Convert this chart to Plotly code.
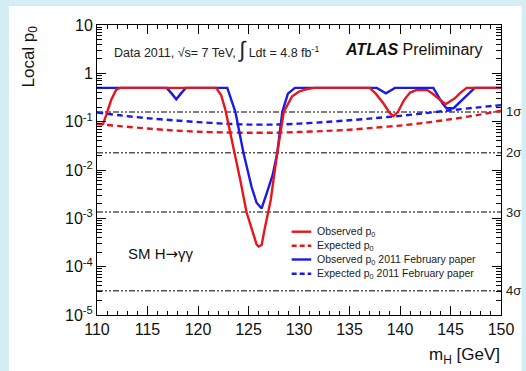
import math
import plotly.graph_objects as go

# ---------------- data ----------------
m_obs_red = [110, 110.6, 110.9, 111.4, 111.9, 112.3, 121.8, 122.3, 122.7, 123.2, 123.6, 124.2, 124.8,
             125.3, 125.8, 126.0, 126.3, 126.6, 127.2, 127.85, 128.5, 129.3, 130.0, 130.6, 131.5,
             137.0, 137.6, 138.35, 139.0, 139.35, 139.8, 140.4, 141.0, 141.6, 142.7, 143.3, 143.9,
             144.5, 145.4, 146.0, 146.6, 150]
p_obs_red = [0.09, 0.09, 0.135, 0.28, 0.46, 0.5, 0.5, 0.35, 0.18, 0.06, 0.023, 0.006, 0.00135,
             0.0006, 0.00029, 0.00026, 0.00028, 0.0006, 0.0024, 0.0228, 0.16, 0.33, 0.42, 0.46, 0.5,
             0.5, 0.38, 0.24, 0.15, 0.13, 0.16, 0.28, 0.4, 0.45, 0.45, 0.37, 0.29,
             0.23, 0.30, 0.40, 0.5, 0.5]

m_obs_blue = [110, 116.9, 117.4, 117.85, 118.3, 118.8, 122.9, 123.2, 123.7, 124.5, 125.3, 125.8,
              126.3, 126.8, 127.4, 127.85, 128.35, 128.9, 129.6, 137.7, 138.6, 139.5, 143.3,
              144.2, 144.6, 145.3, 146.1, 147.4, 150]
p_obs_blue = [0.5, 0.5, 0.38, 0.29, 0.38, 0.5, 0.5, 0.33, 0.16, 0.0228, 0.0045, 0.0021,
              0.0016, 0.0033, 0.008, 0.0228, 0.16, 0.38, 0.5, 0.5, 0.385, 0.5, 0.5,
              0.24, 0.19, 0.19, 0.27, 0.5, 0.5]

m_exp = [110, 112.5, 115, 117.5, 120, 122.5, 125, 127.5, 130, 132.5, 135, 137.5, 140, 142.5, 145, 147.5, 150]
p_exp_red = [0.089, 0.08, 0.072, 0.066, 0.062, 0.06, 0.059, 0.059, 0.061, 0.064, 0.068, 0.075,
             0.083, 0.095, 0.112, 0.135, 0.168]
p_exp_blue = [0.155, 0.133, 0.118, 0.107, 0.098, 0.091, 0.087, 0.087, 0.091, 0.098, 0.107, 0.118,
              0.132, 0.15, 0.172, 0.195, 0.22]

sigma_p = [0.1587, 0.02275, 0.00135, 3.17e-5]
sigma_labels = ["1σ", "2σ", "3σ", "4σ"]

x_ticks = [110, 115, 120, 125, 130, 135, 140, 145, 150]
y_tickvals = [1e-5, 1e-4, 1e-3, 1e-2, 1e-1, 1, 10]
y_ticktext = ["10<sup>-5</sup>", "10<sup>-4</sup>", "10<sup>-3</sup>", "10<sup>-2</sup>",
              "10<sup>-1</sup>", "1", "10"]

legend_labels = ["Observed p<sub>0</sub>", "Expected p<sub>0</sub>",
                 "Observed p<sub>0</sub> 2011 February paper",
                 "Expected p<sub>0</sub> 2011 February paper"]

RED = "#e8161b"
BLUE = "#1a1ae6"
FONT = "Liberation Sans"

# ---------------- geometry (pixels) ----------------
W, H = 526, 371
L, R, T, B = 97, 16, 25, 56
PW, PH = W - L - R, H - T - B


def px(x):
    return (x - L) / PW


def py(y):
    return (H - B - y) / PH


fig = go.Figure()

# sigma reference lines
for p in sigma_p:
    fig.add_trace(go.Scatter(x=[110, 150], y=[p, p], mode="lines", showlegend=False,
                             line=dict(color="#555555", width=1.6,
                                       dash="6px,2px,2px,2px,2px,2px"),
                             hoverinfo="skip"))

fig.add_trace(go.Scatter(x=m_exp, y=p_exp_blue, mode="lines", showlegend=False,
                         line=dict(color=BLUE, width=2.4, dash="6px,4px", shape="spline", smoothing=0.6)))
fig.add_trace(go.Scatter(x=m_exp, y=p_exp_red, mode="lines", showlegend=False,
                         line=dict(color=RED, width=2.4, dash="6px,4px", shape="spline", smoothing=0.6)))
fig.add_trace(go.Scatter(x=m_obs_blue, y=p_obs_blue, mode="lines", showlegend=False,
                         line=dict(color=BLUE, width=2.4)))
fig.add_trace(go.Scatter(x=m_obs_red, y=p_obs_red, mode="lines", showlegend=False,
                         line=dict(color=RED, width=2.4)))

shapes = [dict(type="rect", xref="paper", yref="paper", x0=px(7), x1=px(W + 5),
               y0=py(6), y1=py(H + 5), fillcolor="white", line=dict(width=0), layer="below")]

# custom legend
leg_y = [231.7, 245.7, 259.5, 273.7]
leg_style = [(RED, "solid"), (RED, "dash"), (BLUE, "solid"), (BLUE, "dash")]
annotations = []
for yy, (col, ds), lab in zip(leg_y, leg_style, legend_labels):
    shapes.append(dict(type="line", xref="paper", yref="paper", x0=px(296), x1=px(316),
                       y0=py(yy), y1=py(yy), line=dict(color=col, width=2.4,
                                                       dash="5px,3px" if ds == "dash" else "solid")))
    annotations.append(dict(text=lab, xref="paper", yref="paper", x=px(320), y=py(yy),
                            xanchor="left", yanchor="middle", showarrow=False,
                            font=dict(family=FONT, size=10.5, color="#222")))

for p, lab in zip(sigma_p, sigma_labels):
    annotations.append(dict(text=lab, xref="paper", yref="y", x=px(513), y=math.log10(p),
                            xanchor="left", yanchor="middle", showarrow=False,
                            font=dict(family=FONT, size=13, color="#222")))

annotations += [
    dict(text="Data 2011, √s= 7 TeV, <span style='font-size:22px'>∫</span> Ldt = 4.8 fb<sup>-1</sup>",
         xref="paper", yref="paper", x=px(112), y=py(50), xanchor="left", yanchor="middle",
         showarrow=False, font=dict(family=FONT, size=12.5, color="#222")),
    dict(text="<b><i>ATLAS</i></b> Preliminary", xref="paper", yref="paper", x=px(494), y=py(49),
         xanchor="right", yanchor="middle", showarrow=False, font=dict(family=FONT, size=16, color="#111")),
    dict(text="SM H<span style='font-family:DejaVu Sans'>→</span>γγ", xref="paper", yref="paper",
         x=px(127), y=py(254), xanchor="left", yanchor="middle", showarrow=False,
         font=dict(family=FONT, size=15, color="#111")),
    dict(text="Local p<sub>0</sub>", xref="paper", yref="paper", x=px(28), y=py(57), textangle=-90,
         xanchor="center", yanchor="middle", showarrow=False, font=dict(family=FONT, size=17, color="#111")),
    dict(text="m<sub>H</sub> [GeV]", xref="paper", yref="paper", x=px(511), y=py(356),
         xanchor="right", yanchor="middle", showarrow=False, font=dict(family=FONT, size=17, color="#111")),
]

minor_y = [k * 10 ** e for e in range(-5, 1) for k in range(2, 10)]

fig.update_layout(
    width=W, height=H, autosize=False,
    margin=dict(l=L, r=R, t=T, b=B),
    paper_bgcolor="#d4edf4", plot_bgcolor="white",
    shapes=shapes, annotations=annotations, showlegend=False,
    xaxis=dict(range=[110, 150], tickmode="array", tickvals=x_ticks, ticks="inside", ticklen=9,
               tickcolor="black", showline=True, linecolor="black", linewidth=1, mirror="allticks",
               showgrid=False, zeroline=False,
               tickfont=dict(family=FONT, size=16, color="#111"),
               minor=dict(dtick=1, ticks="inside", ticklen=4, tickcolor="black", showgrid=False)),
    yaxis=dict(type="log", range=[-5, 1], tickmode="array", tickvals=y_tickvals, ticktext=y_ticktext,
               ticks="inside", ticklen=9, tickcolor="black", showline=True, linecolor="black",
               linewidth=1, mirror="allticks", showgrid=False, zeroline=False,
               tickfont=dict(family=FONT, size=16, color="#111"),
               minor=dict(tickmode="array", tickvals=minor_y, ticks="inside", ticklen=5,
                          tickcolor="black", showgrid=False)),
)

fig.write_html("out.html")
